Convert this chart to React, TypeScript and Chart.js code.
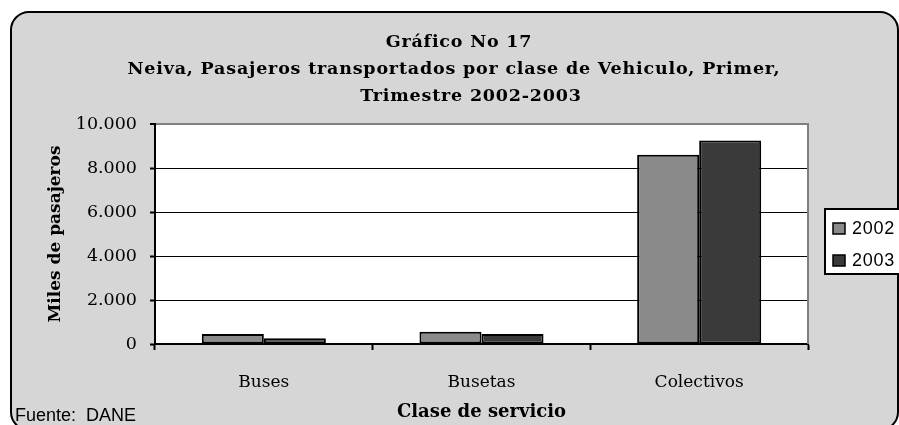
import React, { useEffect, useRef } from "react";
import { Chart, registerables } from "chart.js";

Chart.register(...registerables);

const categories = ["Buses", "Busetas", "Colectivos"];
const seriesLabels = ["2002", "2003"];
const series2002 = [450, 560, 8600];
const series2003 = [260, 450, 9250];
const yTicks = [0, 2000, 4000, 6000, 8000, 10000];
const titleLines = [
  "Gráfico No 17",
  "Neiva, Pasajeros transportados por clase de Vehiculo, Primer,",
  "Trimestre 2002-2003",
];
const yAxisTitle = "Miles de pasajeros";
const xAxisTitle = "Clase de servicio";
const sourceNote = "Fuente:  DANE";

const W = 899;
const H = 425;
const SERIF = "'DejaVu Serif', serif";
const SANS = "'Liberation Sans', Arial, sans-serif";
const colors = ["#8a8a8a", "#3a3a3a"];

const fmt = (v: number) => String(v).replace(/\B(?=(\d{3})+(?!\d))/g, ".");

const decor = {
  id: "decor",
  beforeDraw(chart: any) {
    const ctx = chart.ctx as CanvasRenderingContext2D;
    const a = chart.chartArea;
    ctx.save();
    ctx.fillStyle = "#ffffff";
    ctx.fillRect(0, 0, W, H);
    ctx.beginPath();
    ctx.roundRect(11, 12, 887, 418, 18);
    ctx.fillStyle = "#d6d6d6";
    ctx.fill();
    ctx.lineWidth = 2;
    ctx.strokeStyle = "#000";
    ctx.stroke();
    ctx.fillStyle = "#ffffff";
    ctx.fillRect(a.left, a.top, a.right - a.left, a.bottom - a.top);
    ctx.restore();
  },
  afterDraw(chart: any) {
    const ctx = chart.ctx as CanvasRenderingContext2D;
    const a = chart.chartArea;
    ctx.save();
    // right border of plot
    ctx.strokeStyle = "#808080";
    ctx.lineWidth = 2;
    ctx.beginPath();
    ctx.moveTo(a.right, a.top - 1);
    ctx.lineTo(a.right, a.bottom);
    ctx.stroke();
    // title
    ctx.fillStyle = "#000";
    ctx.font = `bold 17.5px ${SERIF}`;
    (ctx as any).letterSpacing = "0.8px";
    ctx.textAlign = "center";
    ctx.textBaseline = "alphabetic";
    const cx = [459, 454, 471];
    const by = [47, 74, 101];
    titleLines.forEach((t, i) => ctx.fillText(t, cx[i], by[i]));
    // legend
    (ctx as any).letterSpacing = "0.7px";
    ctx.fillStyle = "#fff";
    ctx.fillRect(825, 209, 80, 65);
    ctx.strokeStyle = "#000";
    ctx.lineWidth = 2;
    ctx.strokeRect(825, 209, 80, 65);
    ctx.font = `18px ${SANS}`;
    ctx.textAlign = "left";
    chart.data.datasets.forEach((ds: any, i: number) => {
      const y = 223 + i * 32;
      ctx.fillStyle = ds.backgroundColor;
      ctx.fillRect(833, y, 12, 11);
      ctx.lineWidth = 1.5;
      ctx.strokeStyle = "#000";
      ctx.strokeRect(833, y, 12, 11);
      ctx.fillStyle = "#000";
      ctx.fillText(ds.label, 852, y + 11);
    });
    // source
    (ctx as any).letterSpacing = "0px";
    ctx.font = `18px ${SANS}`;
    ctx.fillText(sourceNote, 15, 421);
    ctx.restore();
  },
};

export default function App() {
  const ref = useRef<HTMLCanvasElement | null>(null);
  useEffect(() => {
    if (!ref.current) return;
    const chart = new Chart(ref.current, {
      type: "bar",
      data: {
        labels: categories,
        datasets: [
          {
            label: seriesLabels[0],
            data: series2002,
            backgroundColor: colors[0],
            borderColor: "#000",
            borderWidth: 2,
            borderSkipped: false,
            categoryPercentage: 0.57,
            barPercentage: 1,
          },
          {
            label: seriesLabels[1],
            data: series2003,
            backgroundColor: colors[1],
            borderColor: "#000",
            borderWidth: 2,
            borderSkipped: false,
            categoryPercentage: 0.57,
            barPercentage: 1,
          },
        ],
      },
      options: {
        responsive: false,
        animation: false,
        devicePixelRatio: 1,
        layout: { padding: { top: 124, right: 91, left: 0, bottom: 0 } },
        plugins: {
          legend: { display: false },
          title: { display: false },
          tooltip: { enabled: false },
        },
        scales: {
          x: {
            grid: {
              display: true,
              drawOnChartArea: false,
              drawTicks: true,
              tickLength: 6,
              tickColor: "#000",
              tickWidth: 2,
              offset: true,
            },
            border: { display: true, color: "#000", width: 2 },
            ticks: {
              color: "#000",
              font: { family: SERIF, size: 17 },
              padding: 22,
            },
            title: {
              display: true,
              text: xAxisTitle,
              color: "#000",
              font: { family: SERIF, size: 18, weight: "bold" },
              padding: { top: 0, bottom: 2 },
            },
            afterFit: (s: any) => {
              s.height = 81;
            },
          },
          y: {
            min: 0,
            max: 10000,
            afterBuildTicks: (s: any) => {
              s.ticks = yTicks.map((v) => ({ value: v }));
            },
            grid: {
              color: (c: any) => (c.tick && c.tick.value === 10000 ? "#808080" : "#000"),
              lineWidth: (c: any) => (c.tick && c.tick.value === 10000 ? 2 : 1),
              drawTicks: true,
              tickLength: 5,
              tickColor: "#000",
              tickWidth: 2,
            },
            border: { display: true, color: "#000", width: 2 },
            ticks: {
              color: "#000",
              font: { family: SERIF, size: 17.5 },
              padding: 13,
              callback: (v: any) => fmt(Number(v)),
            },
            title: {
              display: true,
              text: yAxisTitle,
              color: "#000",
              font: { family: SERIF, size: 17, weight: "bold" },
              padding: { top: 45, bottom: 0 },
            },
            afterFit: (s: any) => {
              s.width = 155;
            },
          },
        },
      },
      plugins: [decor],
    } as any);
    return () => chart.destroy();
  }, []);
  return (
    <div style={{ position: "absolute", left: 0, top: 0, width: W, height: H }}>
      <canvas ref={ref} width={W} height={H} style={{ width: W, height: H, display: "block" }} />
    </div>
  );
}
